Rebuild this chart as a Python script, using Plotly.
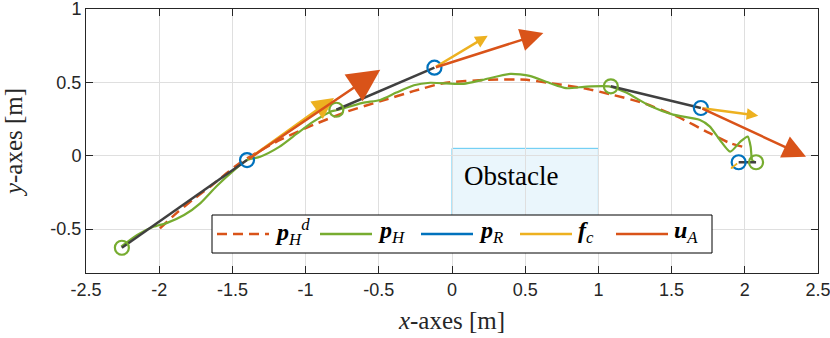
import math
import plotly.graph_objects as go

# ---------------- data ----------------
# desired human path p_H^d
hd_x = [-1.995, -1.88, -1.77, -1.65, -1.54, -1.45, -1.30, -1.175, -0.947, -0.719, -0.492,
        -0.264, -0.06, 0.24, 0.51, 0.67, 0.90, 1.10, 1.31, 1.54, 1.76, 1.90, 1.99]
hd_y = [-0.496, -0.39, -0.30, -0.21, -0.12, -0.05, 0.04, 0.107, 0.21, 0.30, 0.37,
        0.44, 0.494, 0.517, 0.517, 0.494, 0.46, 0.414, 0.358, 0.266, 0.153, 0.085, 0.06]

# actual human path p_H
h_x = [-2.26, -2.15, -2.04, -1.95, -1.83, -1.72, -1.61, -1.49, -1.40, -1.31, -1.18, -1.06,
       -0.95, -0.83, -0.79, -0.61, -0.49, -0.38, -0.26, -0.15, 0.08, 0.21, 0.40, 0.53, 0.67,
       0.78, 0.92, 1.08, 1.19, 1.35, 1.51, 1.69, 1.76, 1.83, 1.90, 1.97, 2.02, 2.04, 2.05, 2.07]
h_y = [-0.62, -0.54, -0.485, -0.46, -0.405, -0.325, -0.21, -0.10, -0.03, -0.007, 0.06, 0.15,
       0.23, 0.30, 0.31, 0.36, 0.38, 0.43, 0.48, 0.497, 0.49, 0.517, 0.558, 0.544, 0.494,
       0.46, 0.471, 0.471, 0.43, 0.34, 0.28, 0.245, 0.20, 0.107, 0.027, 0.096, 0.13, 0.061, -0.03, -0.045]

# snapshots: human (green circles) and robot (blue circles)
hum_x = [-2.255, -0.79, 1.085, 2.077]
hum_y = [-0.628, 0.313, 0.473, -0.045]
rob_x = [-1.40, -0.12, 1.70, 1.958]
rob_y = [-0.03, 0.60, 0.325, -0.045]

# force vectors at the robot snapshots
fc_u = [0.594, 0.364, 0.392, -0.055]
fc_v = [0.424, 0.218, -0.052, -0.045]
ua_u = [0.91, 0.744, 0.718, 0.0]
ua_v = [0.615, 0.236, -0.332, 0.0]

x_ticks = [-2.5, -2, -1.5, -1, -0.5, 0, 0.5, 1, 1.5, 2, 2.5]
x_ticklabels = ["-2.5", "-2", "-1.5", "-1", "-0.5", "0", "0.5", "1", "1.5", "2", "2.5"]
y_ticks = [-0.5, 0, 0.5, 1]
y_ticklabels = ["-0.5", "0", "0.5", "1"]

obstacle_x = [0, 1]
obstacle_y = [-0.5, 0.05]

legend_labels = [
    "<b><i>p</i></b><sub><i>H</i></sub><sup><i>d</i></sup>",
    "<b><i>p</i></b><sub><i>H</i></sub>",
    "<b><i>p</i></b><sub><i>R</i></sub>",
    "<b><i>f</i></b><sub><i>c</i></sub>",
    "<b><i>u</i></b><sub><i>A</i></sub>",
]

# ---------------- style ----------------
BLUE = "#0072BD"
RED = "#D95319"
YELLOW = "#EDB120"
GREEN = "#77AC30"
DARK = "#404040"
AX = "#262626"

W, H = 830, 338
ML, MR, MT, MB = 86, 12, 9, 65
PW, PH = W - ML - MR, H - MT - MB
XR = [-2.5, 2.5]
YR = [-0.8, 1.0]
sx = PW / (XR[1] - XR[0])
sy = PH / (YR[1] - YR[0])


def px2paper_x(px):
    return (px - ML) / PW


def py2paper_y(py):
    return (H - MB - py) / PH


fig = go.Figure()

fig.add_trace(go.Scatter(x=hd_x, y=hd_y, mode="lines", name=legend_labels[0],
                         line=dict(color=RED, width=2.5, dash="10px,6px", shape="spline", smoothing=0.6)))
fig.add_trace(go.Scatter(x=h_x, y=h_y, mode="lines", name=legend_labels[1],
                         line=dict(color=GREEN, width=2.2, shape="spline", smoothing=0.6)))

cx, cy = [], []
for hx, hy, rx, ry in zip(hum_x, hum_y, rob_x, rob_y):
    cx += [hx, rx, None]
    cy += [hy, ry, None]
fig.add_trace(go.Scatter(x=cx, y=cy, mode="lines", name="link",
                         line=dict(color=DARK, width=2.5)))

fig.add_trace(go.Scatter(x=hum_x, y=hum_y, mode="markers", name="human",
                         marker=dict(symbol="circle-open", size=14, color=GREEN, line=dict(width=2.2, color=GREEN))))
fig.add_trace(go.Scatter(x=rob_x, y=rob_y, mode="markers", name=legend_labels[2],
                         marker=dict(symbol="circle-open", size=14, color=BLUE, line=dict(width=2.2, color=BLUE))))


# arrows (quiver-like)
def add_arrows(us, vs, color):
    for x0, y0, u, v in zip(rob_x, rob_y, us, vs):
        L = math.hypot(u * sx, v * sy)
        if L < 1:
            continue
        aw = 2.5 if L > 30 else 1.8
        head = 0.2 * L
        asz = max(0.3, head / (5 * aw))
        fig.add_annotation(x=x0 + u, y=y0 + v, ax=x0, ay=y0, xref="x", yref="y", axref="x", ayref="y",
                           text="", showarrow=True, arrowhead=2, arrowsize=asz, arrowwidth=aw,
                           arrowcolor=color, standoff=0, startstandoff=0)


add_arrows(fc_u, fc_v, YELLOW)
add_arrows(ua_u, ua_v, RED)

# obstacle
fig.add_shape(type="rect", x0=obstacle_x[0], x1=obstacle_x[1], y0=obstacle_y[0], y1=obstacle_y[1],
              xref="x", yref="y", layer="below", fillcolor="#EAF6FC",
              line=dict(color="#5CC8F2", width=1))
fig.add_annotation(x=obstacle_x[0] + 0.07, y=-0.14, xref="x", yref="y", text="Obstacle",
                   showarrow=False, xanchor="left", yanchor="middle",
                   font=dict(family="Liberation Serif", size=27, color="black"))

# ---------------- legend box (drawn manually to match sample lengths) ----------------
fig.add_shape(type="rect", xref="paper", yref="paper",
              x0=px2paper_x(212), x1=px2paper_x(712), y0=py2paper_y(253), y1=py2paper_y(215),
              fillcolor="white", line=dict(color="black", width=1), layer="above")
leg_styles = [
    dict(color=RED, width=2.5, dash="10px,6px"),
    dict(color=GREEN, width=2.5),
    dict(color=BLUE, width=2.5),
    dict(color=YELLOW, width=2.5),
    dict(color=RED, width=2.5),
]
leg_starts = [217, 320, 421, 520, 616]
for s, st, lab in zip(leg_starts, leg_styles, legend_labels):
    fig.add_shape(type="line", xref="paper", yref="paper",
                  x0=px2paper_x(s), x1=px2paper_x(s + 52), y0=py2paper_y(234), y1=py2paper_y(234),
                  line=st, layer="above")
    fig.add_annotation(xref="paper", yref="paper", x=px2paper_x(s + 56), y=py2paper_y(232),
                       text=lab, showarrow=False, xanchor="left", yanchor="middle",
                       font=dict(family="Liberation Serif", size=24, color="black"))

axis_common = dict(showline=True, linecolor=AX, linewidth=1, mirror="ticks", ticks="inside",
                   ticklen=7, tickcolor=AX, tickwidth=1, showgrid=True, gridcolor="#DFDFDF",
                   gridwidth=1, zeroline=False, automargin=False, ticklabeloverflow="allow",
                   tickfont=dict(family="Liberation Sans", size=18, color=AX))

fig.update_xaxes(range=XR, tickvals=x_ticks, ticktext=x_ticklabels,
                 title=dict(text="<i>x</i>-axes [m]", standoff=12,
                            font=dict(family="Liberation Serif", size=25, color=AX)),
                 **axis_common)
fig.update_yaxes(range=YR, tickvals=y_ticks, ticktext=y_ticklabels,
                 title=dict(text="<i>y</i>-axes [m]", standoff=24,
                            font=dict(family="Liberation Serif", size=25, color=AX)),
                 **axis_common)

fig.update_layout(
    width=W, height=H,
    margin=dict(l=ML, r=MR, t=MT, b=MB),
    plot_bgcolor="white", paper_bgcolor="white",
    showlegend=False,
)

fig.write_html("out.html", config={"displayModeBar": False},
               post_script="document.body.style.margin='0px';document.body.style.overflow='hidden';")
